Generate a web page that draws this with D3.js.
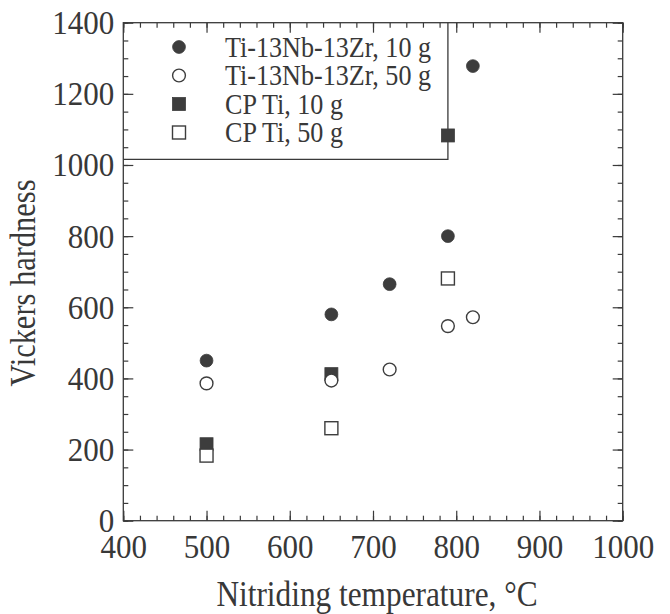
<!DOCTYPE html>
<html>
<head>
<meta charset="utf-8">
<script src="https://cdn.jsdelivr.net/npm/d3@7"></script>
<style>
  body { margin: 0; background: #fff; }
  text { font-family: "Liberation Serif", "Times New Roman", serif; fill: #383838; }
</style>
</head>
<body>
<svg id="chart"></svg>
<script>
// Vickers hardness vs nitriding temperature

// Ti-13Nb-13Zr series
const alloyTemps = [500, 650, 720, 790, 820];
const alloy10g = [450, 580, 665, 800, 1278];
const alloy50g = [386, 394, 425, 547, 572];

// CP Ti series
const cpTemps = [500, 650, 790];
const cp10g = [215, 412, 1083];
const cp50g = [183, 260, 681];

const legendLabels = ["Ti-13Nb-13Zr, 10 g", "Ti-13Nb-13Zr, 50 g", "CP Ti, 10 g", "CP Ti, 50 g"];
const xTicks = [400, 500, 600, 700, 800, 900, 1000];
const yTicks = [0, 200, 400, 600, 800, 1000, 1200, 1400];

const width = 670, height = 614;
const margin = {top: 22.7, right: 47.3, bottom: 93.3, left: 123.3};
const ink = "#3a3a3a";
const squeeze = 0.87; // the scan is a bit narrow, so text is compressed sideways
const tickSqueeze = 0.94;

const svg = d3.select("#chart")
    .attr("width", width)
    .attr("height", height)
    .attr("viewBox", [0, 0, width, height]);

const x = d3.scaleLinear().domain([400, 1000]).range([margin.left, width - margin.right]);
const y = d3.scaleLinear().domain([0, 1400]).range([height - margin.bottom, margin.top]);

const minorX = d3.range(400, 1001, 20);
const minorY = d3.range(0, 1401, 50);

// inward ticks on all four sides (minor first, then major)
function drawAxis(axisFn, scale, pos, minor, major, labels) {
    const gMinor = svg.append("g")
        .attr("transform", pos)
        .call(axisFn(scale).tickValues(minor).tickSize(-5).tickFormat(""));
    const gMajor = svg.append("g")
        .attr("transform", pos)
        .call(axisFn(scale).tickValues(major).tickSize(-10).tickFormat(labels ? d3.format("d") : ""));
    [gMinor, gMajor].forEach(g => {
        g.select(".domain").remove();
        g.selectAll("line").attr("stroke", ink).attr("stroke-width", 1.2);
    });
    return gMajor;
}

const bottom = drawAxis(d3.axisBottom, x, `translate(0,${y(0)})`, minorX, xTicks, true);
drawAxis(d3.axisTop, x, `translate(0,${y(1400)})`, minorX, xTicks, false);
const left = drawAxis(d3.axisLeft, y, `translate(${x(400)},0)`, minorY, yTicks, true);
drawAxis(d3.axisRight, y, `translate(${x(1000)},0)`, minorY, yTicks, false);

bottom.selectAll("text")
    .attr("x", 0)
    .attr("y", 37)
    .attr("dy", null)
    .attr("transform", `scale(${tickSqueeze},1)`)
    .style("font-size", "33px");

left.selectAll("text")
    .attr("x", -9 / tickSqueeze)
    .attr("dy", "0.33em")
    .attr("transform", `scale(${tickSqueeze},1)`)
    .style("font-size", "33px");

// frame
svg.append("rect")
    .attr("x", x(400))
    .attr("y", y(1400))
    .attr("width", x(1000) - x(400))
    .attr("height", y(0) - y(1400))
    .attr("fill", "none")
    .attr("stroke", ink)
    .attr("stroke-width", 1.3);

// legend box (open towards the top-left corner of the frame)
const legendRight = x(790), legendBottom = 159.3;
svg.append("path")
    .attr("d", `M${x(400)},${legendBottom}H${legendRight}V${y(1400)}`)
    .attr("fill", "none")
    .attr("stroke", ink)
    .attr("stroke-width", 1.3);

// markers
const dark = "#3d3d3d";
const circleR = 6.4, sq = 13;

function circles(temps, vals, filled) {
    svg.append("g").selectAll("circle")
        .data(temps.map((t, i) => [t, vals[i]]))
        .join("circle")
        .attr("cx", d => x(d[0]))
        .attr("cy", d => y(d[1]))
        .attr("r", circleR)
        .attr("fill", filled ? dark : "#fff")
        .attr("stroke", dark)
        .attr("stroke-width", filled ? 0.8 : 1.4);
}

function squares(temps, vals, filled) {
    svg.append("g").selectAll("rect")
        .data(temps.map((t, i) => [t, vals[i]]))
        .join("rect")
        .attr("x", d => x(d[0]) - sq / 2)
        .attr("y", d => y(d[1]) - sq / 2)
        .attr("width", sq)
        .attr("height", sq)
        .attr("fill", filled ? dark : "#fff")
        .attr("stroke", dark)
        .attr("stroke-width", filled ? 0.8 : 1.4);
}

squares(cpTemps, cp10g, true);
circles(alloyTemps, alloy10g, true);
circles(alloyTemps, alloy50g, false);
squares(cpTemps, cp50g, false);

// legend
const legendRows = [47, 75.5, 104, 132.5];
const legendKinds = [["circle", true], ["circle", false], ["square", true], ["square", false]];
const legend = svg.append("g");

legendKinds.forEach(([kind, filled], i) => {
    const cy = legendRows[i];
    if (kind === "circle") {
        legend.append("circle")
            .attr("cx", 179).attr("cy", cy).attr("r", circleR)
            .attr("fill", filled ? dark : "#fff")
            .attr("stroke", dark).attr("stroke-width", filled ? 0.8 : 1.4);
    } else {
        legend.append("rect")
            .attr("x", 179 - sq / 2).attr("y", cy - sq / 2)
            .attr("width", sq).attr("height", sq)
            .attr("fill", filled ? dark : "#fff")
            .attr("stroke", dark).attr("stroke-width", filled ? 0.8 : 1.4);
    }
    legend.append("text")
        .attr("transform", `translate(225,${cy + 9.5}) scale(${squeeze},1)`)
        .style("font-size", "30px")
        .text(legendLabels[i]);
});

// axis titles
svg.append("text")
    .attr("transform", `translate(377,606) scale(${squeeze},1)`)
    .attr("text-anchor", "middle")
    .style("font-size", "36px")
    .text("Nitriding temperature, °C");

svg.append("text")
    .attr("transform", `translate(34.5,283) rotate(-90) scale(${squeeze},1)`)
    .attr("text-anchor", "middle")
    .style("font-size", "35px")
    .text("Vickers hardness");
</script>
</body>
</html>
